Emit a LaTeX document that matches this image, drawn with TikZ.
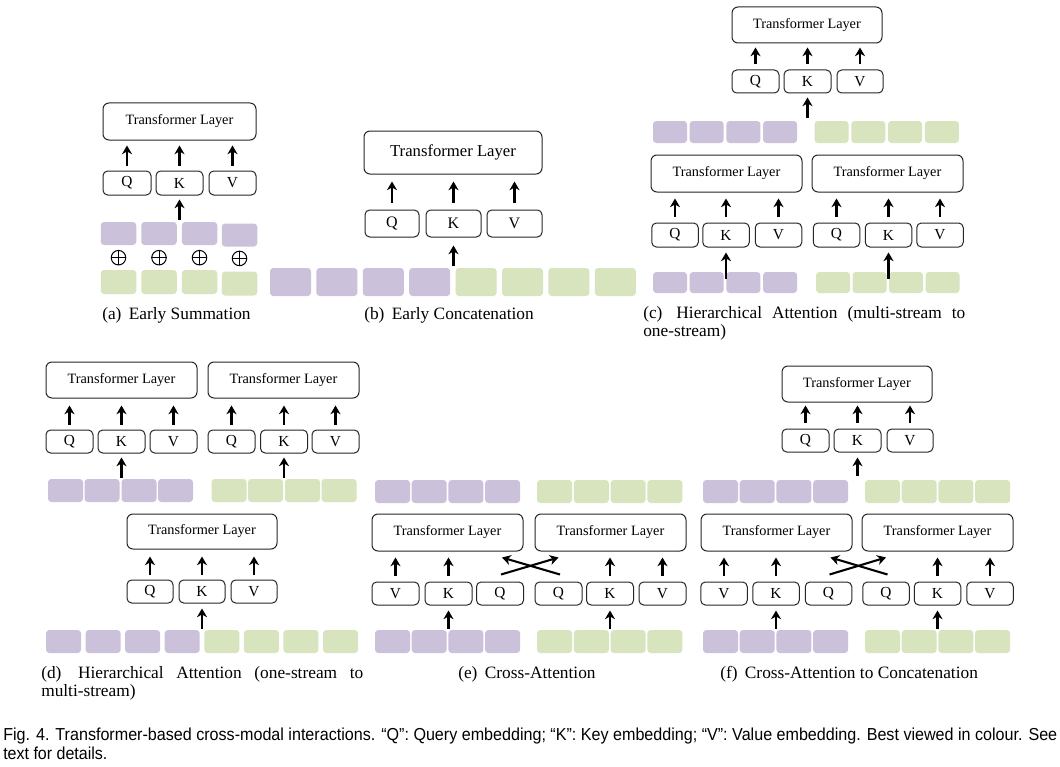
\documentclass[tikz,border=0pt]{standalone}
\usepackage[T1]{fontenc}
\usepackage{fontspec}
\setmainfont{Liberation Serif}
\newfontfamily\capsans{Liberation Sans}
\usepackage{graphicx}
\usetikzlibrary{arrows.meta,calc}
\definecolor{tokP}{HTML}{CCC1DA}
\definecolor{tokG}{HTML}{D7E4BD}
% sub-caption face: Palatino when its metrics are installed, otherwise a serif fallback
\IfFileExists{pplr8t.tfm}
  {\newcommand\palfont{\fontencoding{T1}\fontfamily{ppl}\selectfont\fontsize{12}{14}\selectfont}}
  {\IfFileExists{ec-qplr.tfm}
    {\newcommand\palfont{\fontencoding{T1}\fontfamily{qpl}\selectfont\fontsize{12}{14}\selectfont}}
    {\newcommand\palfont{\fontsize{13}{15}\selectfont}}}
\def\u{0.75pt}
\tikzset{
  sz/.style 2 args={minimum width=#1*\u, minimum height=#2*\u},
  tlbox/.style={draw=black!85, line width=0.75pt, rounded corners=4.5pt, fill=white,
    inner sep=0pt, font=\fontsize{10.7}{12}\selectfont},
  qkv/.style={draw=black!85, line width=0.75pt, rounded corners=3.5pt, fill=white,
    inner sep=0pt, font=\fontsize{11.5}{12}\selectfont},
  ptok/.style={fill=tokP, rounded corners=2.5pt, inner sep=0pt},
  gtok/.style={fill=tokG, rounded corners=2.5pt, inner sep=0pt},
  arr/.style={-{Stealth[length=6.5pt,width=7.5pt,inset=2pt]}, line width=1.55pt},
  osum/.style={circle, draw=black, line width=0.75pt, inner sep=0pt, minimum size=14.5*\u},
  subcap/.style={anchor=base west, inner sep=0pt, font=\palfont},
  figcap/.style={anchor=base west, inner sep=0pt, font=\capsans\fontsize{13}{15}\selectfont},
}
% arrow from a Q/K/V box up to the layer above it
\newcommand\uparr[4]{\draw[arr, shorten <=#3*\u, shorten >=#4*\u] (#1.north) -- (#1.north |- #2.south);}
\begin{document}
\begin{tikzpicture}[x=0.75pt, y=-0.75pt]
\useasboundingbox (0,0) rectangle (1060,767);
\fill[white] (0,0) rectangle (1060,767);

% ---------------- (a) Early Summation ----------------
\node[tlbox, sz={153}{37}] (a-tl) at (179.5,121.5) {Transformer Layer};
\node[qkv, sz={48}{24}] (a-q) at (127,183) {Q};
\node[qkv, sz={47}{24}] (a-k) at (179.5,183) {K};
\node[qkv, sz={47}{24}] (a-v) at (232.5,183) {V};
\foreach \n in {q,k,v} {\uparr{a-\n}{a-tl}{5}{5}}
\coordinate (a-in) at ($(a-k.south)+(0,24)$);
\draw[arr, shorten >=4*\u] (a-in) -- (a-k.south);
\foreach \i/\x/\d in {1/118.5/0, 2/159/0, 3/199.5/0, 4/239.5/1.5} {
  \node[ptok, sz={35.5}{23}] (a-p\i) at (\x,233.5+\d) {};
  \node[osum] (a-o\i) at (\x,257.7+0.5*\d) {};
  \draw[line width=0.75pt] (a-o\i.north) -- (a-o\i.south) (a-o\i.west) -- (a-o\i.east);
  \node[gtok, sz={35.5}{24}] (a-g\i) at (\x,282+\d) {};
}
\node[subcap] (a-cap) at (102,319) {(a)\hspace{5.5pt}Early Summation};

% ---------------- (b) Early Concatenation ----------------
\node[tlbox, sz={178}{43}, font=\fontsize{12.5}{14}\selectfont] (b-tl) at (453,152.5) {Transformer Layer};
\node[qkv, sz={54}{27}, font=\fontsize{12}{14}\selectfont] (b-q) at (392,223.5) {Q};
\node[qkv, sz={55}{27}, font=\fontsize{12}{14}\selectfont] (b-k) at (453.5,223.5) {K};
\node[qkv, sz={55}{27}, font=\fontsize{12}{14}\selectfont] (b-v) at (514.5,223.5) {V};
\foreach \n in {q,k,v} {\uparr{b-\n}{b-tl}{7}{7}}
\coordinate (b-in) at ($(b-k.south)+(0,28)$);
\draw[arr, shorten >=8*\u] (b-in) -- (b-k.south);
\foreach \i in {0,...,3} {
  \node[ptok, sz={41}{28}] (b-p\i) at (290.5+46.4*\i,282) {};
  \node[gtok, sz={41}{28}] (b-g\i) at (476.1+46.4*\i,282) {};
}
\node[subcap] (b-cap) at (364,319) {(b)\hspace{5.5pt}Early Concatenation};

% ---------------- (c) Hierarchical Attention (multi-stream to one-stream) ----------------
\node[tlbox, sz={150}{36}] (c-tl) at (807,25) {Transformer Layer};
\node[qkv, sz={47}{23}] (c-q) at (755.5,81.5) {Q};
\node[qkv, sz={47}{23}] (c-k) at (807.5,81.5) {K};
\node[qkv, sz={46}{23}] (c-v) at (860,81.5) {V};
\foreach \n in {q,k,v} {\uparr{c-\n}{c-tl}{5}{4}}
\coordinate (c-in) at ($(c-k.south)+(0,24)$);
\draw[arr, shorten >=4*\u] (c-in) -- (c-k.south);
\foreach \i in {0,...,3} {
  \node[ptok, sz={34}{22}] (c-mp\i) at (670+36.7*\i,132) {};
  \node[gtok, sz={34}{22}] (c-mg\i) at (831.5+36.8*\i,132) {};
}
\node[tlbox, sz={151}{37}] (c-tl1) at (726.5,173.5) {Transformer Layer};
\node[tlbox, sz={151}{37}] (c-tl2) at (887.5,173.5) {Transformer Layer};
\node[qkv, sz={46.5}{24}] (c-q1) at (675,235) {Q};
\node[qkv, sz={46.5}{24}] (c-k1) at (726,235) {K};
\node[qkv, sz={46.5}{24}] (c-v1) at (778.5,235) {V};
\node[qkv, sz={46.5}{24}] (c-q2) at (836.5,235) {Q};
\node[qkv, sz={46.5}{24}] (c-k2) at (888.5,235) {K};
\node[qkv, sz={46.5}{24}] (c-v2) at (940,235) {V};
\foreach \s in {1,2} {
  \foreach \n in {q,k,v} {\uparr{c-\n\s}{c-tl\s}{6}{6}}
}
\foreach \i in {0,...,3} {
  \node[ptok, sz={34}{21}] (c-bp\i) at (670+36.7*\i,282.5) {};
  \node[gtok, sz={34}{21}] (c-bg\i) at (833+36.5*\i,282.5) {};
}
\foreach \s in {1,2} {
  \coordinate (c-in\s) at ($(c-k\s.south)+(0,31)$);
  \draw[arr, shorten >=5*\u] (c-in\s) -- (c-k\s.south);
}
\node[subcap] (c-cap1) at (643,318.5) {\makebox[241.5pt][s]{(c)\hspace{3pt} Hierarchical Attention (multi-stream to}};
\node[subcap] (c-cap2) at (643,336.7) {one-stream)};

% ---------------- (d) Hierarchical Attention (one-stream to multi-stream) ----------------
\node[tlbox, sz={151}{36}] (d-tl1) at (121.5,380) {Transformer Layer};
\node[tlbox, sz={151}{36}] (d-tl2) at (283.5,380) {Transformer Layer};
\node[qkv, sz={47}{23}] (d-q1) at (69.5,441.5) {Q};
\node[qkv, sz={47}{23}] (d-k1) at (121.5,441.5) {K};
\node[qkv, sz={47}{23}] (d-v1) at (173.5,441.5) {V};
\node[qkv, sz={47}{23}] (d-q2) at (231.5,441.5) {Q};
\node[qkv, sz={47}{23}] (d-k2) at (284,441.5) {K};
\node[qkv, sz={47}{23}] (d-v2) at (335.5,441.5) {V};
\foreach \s in {1,2} {
  \foreach \n in {q,k,v} {\uparr{d-\n\s}{d-tl\s}{5}{7}}
  \coordinate (d-in\s) at ($(d-k\s.south)+(0,24)$);
  \draw[arr, shorten >=4*\u] (d-in\s) -- (d-k\s.south);
}
\foreach \i/\xp/\xg in {0/65.5/229, 1/102/265.5, 2/139/302.5, 3/175.5/339} {
  \node[ptok, sz={35}{23}] (d-mp\i) at (\xp,490.5) {};
  \node[gtok, sz={35}{23}] (d-mg\i) at (\xg,490.5) {};
}
\node[tlbox, sz={150}{35}] (d-tl) at (202,531.5) {Transformer Layer};
\node[qkv, sz={46}{23}] (d-q) at (150,591.5) {Q};
\node[qkv, sz={46}{23}] (d-k) at (202,591.5) {K};
\node[qkv, sz={46}{23}] (d-v) at (254,591.5) {V};
\foreach \n in {q,k,v} {\uparr{d-\n}{d-tl}{5}{7}}
\coordinate (d-in) at ($(d-k.south)+(0,25)$);
\draw[arr, shorten >=5*\u] (d-in) -- (d-k.south);
\foreach \i in {0,...,3} {
  \node[ptok, sz={35}{23}] (d-bp\i) at (63.5+39.57*\i,641.5) {};
  \node[gtok, sz={35}{23}] (d-bg\i) at (221.8+39.57*\i,641.5) {};
}
\node[subcap] (d-cap1) at (41,678.5) {\makebox[241.5pt][s]{(d)\hspace{3pt} Hierarchical Attention (one-stream to}};
\node[subcap] (d-cap2) at (41,696.5) {multi-stream)};

% ---------------- (e) Cross-Attention ----------------
\foreach \i in {0,...,3} {
  \node[ptok, sz={35}{23}] (e-mp\i) at (392.5+36.7*\i,491.5) {};
  \node[gtok, sz={35}{23}] (e-mg\i) at (554.5+36.8*\i,491.5) {};
  \node[ptok, sz={35}{23}] (e-bp\i) at (392.5+36.7*\i,641.5) {};
  \node[gtok, sz={35}{23}] (e-bg\i) at (554.5+36.8*\i,641.5) {};
}
\node[tlbox, sz={151}{37}] (e-tl1) at (447.5,532.5) {Transformer Layer};
\node[tlbox, sz={151}{37}] (e-tl2) at (610.5,532.5) {Transformer Layer};
\node[qkv, sz={47}{23}] (e-v1) at (395.5,593.5) {V};
\node[qkv, sz={47}{23}] (e-k1) at (448.5,593.5) {K};
\node[qkv, sz={47}{23}] (e-q1) at (500,593.5) {Q};
\node[qkv, sz={47}{23}] (e-q2) at (558.5,593.5) {Q};
\node[qkv, sz={47}{23}] (e-k2) at (610,593.5) {K};
\node[qkv, sz={47}{23}] (e-v2) at (662.5,593.5) {V};
\foreach \s in {1,2} {
  \foreach \n in {k,v} {\uparr{e-\n\s}{e-tl\s}{6}{6}}
  \coordinate (e-in\s) at ($(e-k\s.south)+(0,23)$);
  \draw[arr, shorten >=5*\u] (e-in\s) -- (e-k\s.south);
}
\draw[arr] ($(e-q1.north)+(1,-7)$) -- ($(e-q2.north |- e-tl2.south)+(0,6)$);
\draw[arr] ($(e-q2.north)+(1.5,-7)$) -- ($(e-q1.north |- e-tl1.south)+(2,6)$);
\node[subcap] (e-cap) at (458,678) {(e)\hspace{5.5pt}Cross-Attention};

% ---------------- (f) Cross-Attention to Concatenation ----------------
\node[tlbox, sz={150}{36}] (f-tl) at (857,384) {Transformer Layer};
\node[qkv, sz={47}{23}] (f-q) at (805.5,440.5) {Q};
\node[qkv, sz={47}{23}] (f-k) at (857.5,440.5) {K};
\node[qkv, sz={46}{23}] (f-v) at (910,440.5) {V};
\foreach \n in {q,k,v} {\uparr{f-\n}{f-tl}{6}{3}}
\coordinate (f-in) at ($(f-k.south)+(0,23)$);
\draw[arr, shorten >=5*\u] (f-in) -- (f-k.south);
\foreach \i in {0,...,3} {
  \node[ptok, sz={35}{23}] (f-mp\i) at (720.5+36.7*\i,491.5) {};
  \node[gtok, sz={35}{23}] (f-mg\i) at (882.5+36.7*\i,491.5) {};
  \node[ptok, sz={35}{23}] (f-bp\i) at (720.5+36.7*\i,641.5) {};
  \node[gtok, sz={35}{23}] (f-bg\i) at (882.5+36.7*\i,641.5) {};
}
\node[tlbox, sz={151}{37}] (f-tl1) at (776.5,532.5) {Transformer Layer};
\node[tlbox, sz={151}{37}] (f-tl2) at (937.5,532.5) {Transformer Layer};
\node[qkv, sz={46.5}{23}] (f-v1) at (724,593.5) {V};
\node[qkv, sz={46.5}{23}] (f-k1) at (776,593.5) {K};
\node[qkv, sz={46.5}{23}] (f-q1) at (828.5,593.5) {Q};
\node[qkv, sz={46.5}{23}] (f-q2) at (886,593.5) {Q};
\node[qkv, sz={46.5}{23}] (f-k2) at (937.5,593.5) {K};
\node[qkv, sz={46.5}{23}] (f-v2) at (990,593.5) {V};
\foreach \s in {1,2} {
  \foreach \n in {k,v} {\uparr{f-\n\s}{f-tl\s}{6}{6}}
  \coordinate (f-in\s) at ($(f-k\s.south)+(0,23)$);
  \draw[arr, shorten >=5*\u] (f-in\s) -- (f-k\s.south);
}
\draw[arr] ($(f-q1.north)+(1,-7)$) -- ($(f-q2.north |- f-tl2.south)+(0,6)$);
\draw[arr] ($(f-q2.north)+(1.5,-7)$) -- ($(f-q1.north |- f-tl1.south)+(2,6)$);
\node[subcap] (f-cap) at (720,678) {(f)\hspace{5.5pt}Cross-Attention to Concatenation};

% ---------------- figure caption (slightly condensed sans) ----------------
\node[figcap] (fig-cap1) at (3,740) {\resizebox{790.5pt}{\height}{Fig. 4. Transformer-based cross-modal interactions. “Q”: Query embedding; “K”: Key embedding; “V”: Value embedding. Best viewed in colour. See}};
\node[figcap] (fig-cap2) at (3,759) {\scalebox{0.924}[1]{text for details.}};
\end{tikzpicture}
\end{document}
